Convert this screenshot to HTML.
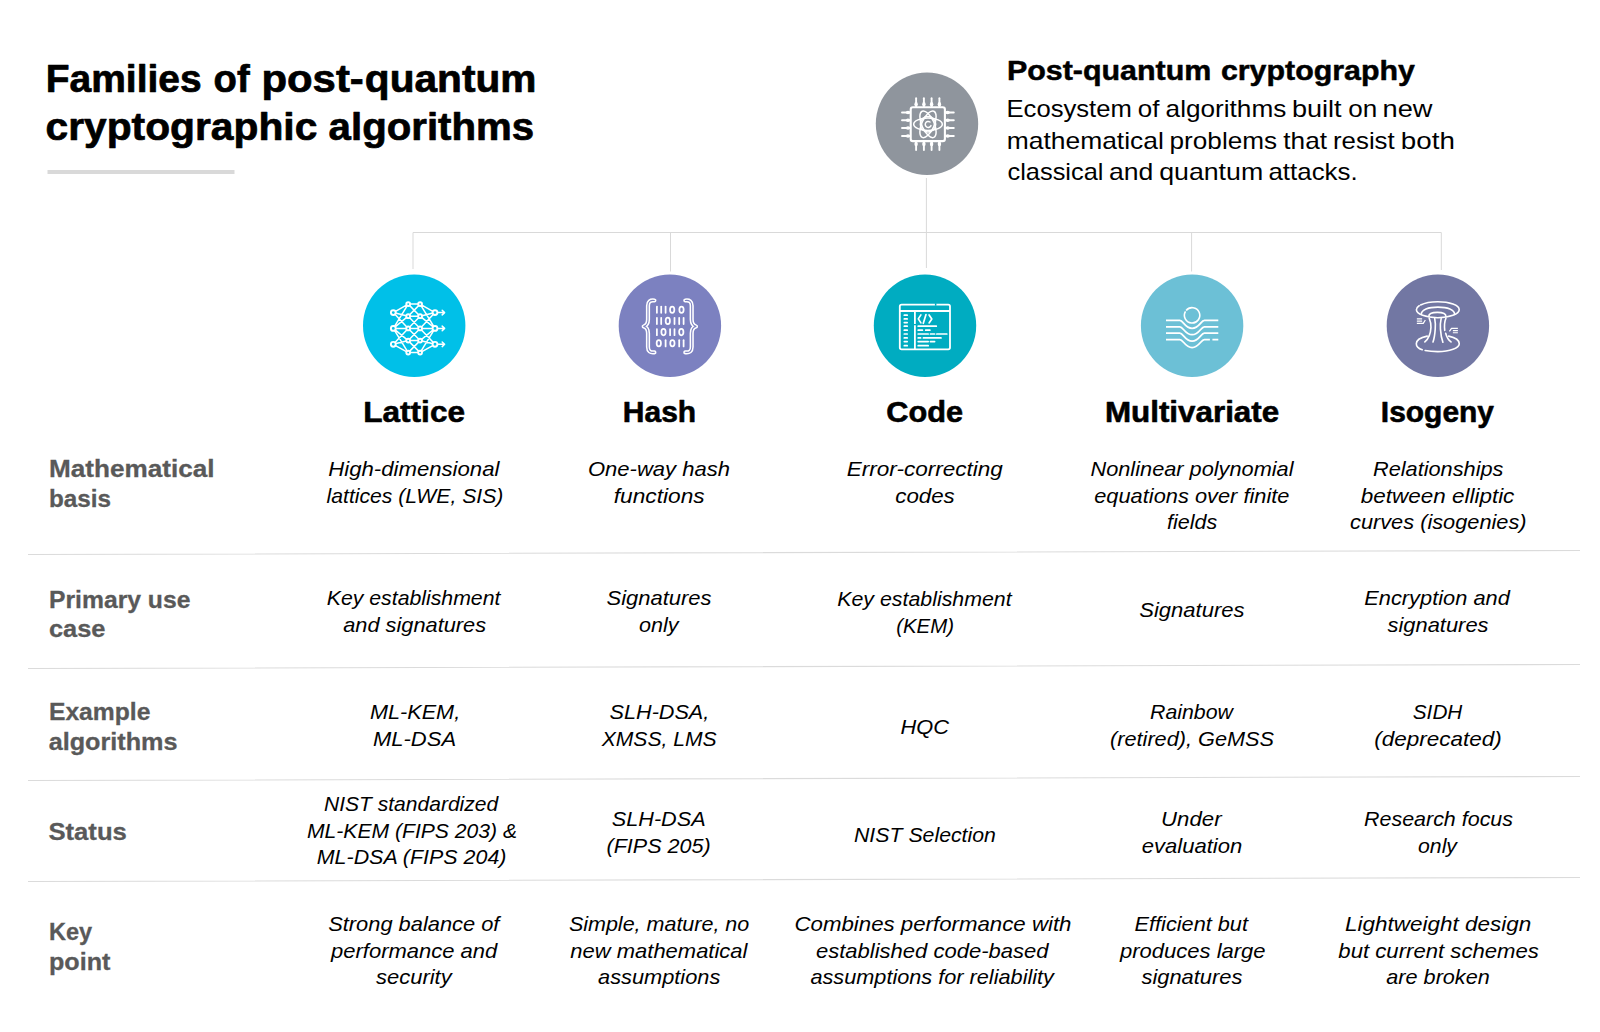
<!DOCTYPE html>
<html lang="en"><head><meta charset="utf-8"><title>Families of post-quantum cryptographic algorithms</title>
<style>
html,body{margin:0;padding:0;background:#fff;}
body{width:1600px;height:1032px;overflow:hidden;}
svg{display:block}
text{font-family:"Liberation Sans",sans-serif;fill:#000;white-space:pre}
.ttl{font-weight:700;stroke:#000;stroke-width:0.7px;stroke-linejoin:round}
.hd{font-weight:700;stroke:#000;stroke-width:0.5px;stroke-linejoin:round}
.ch{font-weight:700;stroke:#000;stroke-width:0.6px;stroke-linejoin:round}
.rl{font-weight:700;fill:#595959;stroke:#595959;stroke-width:0.3px}
.ds{font-weight:400}
.c{font-style:italic}
</style></head><body>
<svg width="1600" height="1032" viewBox="0 0 1600 1032">
<rect width="1600" height="1032" fill="#fff"/>
<g id="gfx">
<rect x="47.5" y="170" width="187" height="4" fill="#d9d9d9"/>
<g stroke="#d9d9d9" stroke-width="1" fill="none">
<path d="M413 269V232.5H1441.3V270"/>
<path d="M670.5 232.5V271.5M926.4 178V268M1191.6 232.5V271.5"/>
</g>
<g stroke="#dbdbdb" stroke-width="1.05" fill="none">
<path d="M28 554.5L1580 550.5M28 668.5L1580 664.5M28 780.5L1580 776.5M28 881.5L1580 877.5"/>
</g>
<circle cx="927" cy="123.8" r="51.2" fill="#8f959d"/>
<circle cx="414.2" cy="325.7" r="51.2" fill="#00c0e8"/>
<circle cx="669.9" cy="325.7" r="51.2" fill="#7c81c0"/>
<circle cx="925" cy="325.7" r="51.2" fill="#00acc1"/>
<circle cx="1192.1" cy="325.7" r="51.2" fill="#6cc0d6"/>
<circle cx="1437.9" cy="325.7" r="51.2" fill="#7277a3"/>
<g stroke="#fff" stroke-width="1.9" fill="none" stroke-linecap="round" stroke-linejoin="round">
<rect x="910.7" y="107.3" width="34.2" height="33.8" rx="2.2" stroke-width="2.1"/>
<path d="M916.1 98.2V106.3"/>
<path d="M916.1 150V142"/>
<ellipse cx="916.1" cy="104.3" rx="1.7" ry="2.2" fill="#fff" stroke="none"/>
<ellipse cx="916.1" cy="144" rx="1.7" ry="2.2" fill="#fff" stroke="none"/>
<path d="M923.9 98.2V106.3"/>
<path d="M923.9 150V142"/>
<ellipse cx="923.9" cy="104.3" rx="1.7" ry="2.2" fill="#fff" stroke="none"/>
<ellipse cx="923.9" cy="144" rx="1.7" ry="2.2" fill="#fff" stroke="none"/>
<path d="M931.6 98.2V106.3"/>
<path d="M931.6 150V142"/>
<ellipse cx="931.6" cy="104.3" rx="1.7" ry="2.2" fill="#fff" stroke="none"/>
<ellipse cx="931.6" cy="144" rx="1.7" ry="2.2" fill="#fff" stroke="none"/>
<path d="M939.4 98.2V106.3"/>
<path d="M939.4 150V142"/>
<ellipse cx="939.4" cy="104.3" rx="1.7" ry="2.2" fill="#fff" stroke="none"/>
<ellipse cx="939.4" cy="144" rx="1.7" ry="2.2" fill="#fff" stroke="none"/>
<path d="M902 112.5H909.8"/>
<path d="M953.8 112.5H945.8"/>
<ellipse cx="908" cy="112.5" rx="2.2" ry="1.7" fill="#fff" stroke="none"/>
<ellipse cx="947.7" cy="112.5" rx="2.2" ry="1.7" fill="#fff" stroke="none"/>
<path d="M902 120.2H909.8"/>
<path d="M953.8 120.2H945.8"/>
<ellipse cx="908" cy="120.2" rx="2.2" ry="1.7" fill="#fff" stroke="none"/>
<ellipse cx="947.7" cy="120.2" rx="2.2" ry="1.7" fill="#fff" stroke="none"/>
<path d="M902 128.0H909.8"/>
<path d="M953.8 128.0H945.8"/>
<ellipse cx="908" cy="128.0" rx="2.2" ry="1.7" fill="#fff" stroke="none"/>
<ellipse cx="947.7" cy="128.0" rx="2.2" ry="1.7" fill="#fff" stroke="none"/>
<path d="M902 136.0H909.8"/>
<path d="M953.8 136.0H945.8"/>
<ellipse cx="908" cy="136.0" rx="2.2" ry="1.7" fill="#fff" stroke="none"/>
<ellipse cx="947.7" cy="136.0" rx="2.2" ry="1.7" fill="#fff" stroke="none"/>
</g>
<g stroke="#fff" stroke-width="1.5" fill="none" stroke-linecap="round">
<ellipse cx="928" cy="124.3" rx="14.3" ry="6.2"/>
<ellipse cx="928" cy="124.3" rx="14.3" ry="6.2" transform="rotate(66 928 124.3)"/>
<ellipse cx="928" cy="124.3" rx="14.3" ry="6.2" transform="rotate(-66 928 124.3)"/>
<circle cx="928" cy="124.3" r="7.7"/>
<path d="M930 122A3 3 0 1 0 931 125.6"/>
</g>
<g stroke="#fff" stroke-width="1.5" fill="none" stroke-linecap="round" stroke-linejoin="round">
<path d="M393.3 312.6L408.2 304.1M435.0 312.6L420.1 304.1M393.3 312.6L408.2 316.2M435.0 312.6L420.1 316.2M393.3 312.6L408.2 328.4M435.0 312.6L420.1 328.4M393.3 328.4L408.2 304.1M435.0 328.4L420.1 304.1M393.3 328.4L408.2 316.2M435.0 328.4L420.1 316.2M393.3 328.4L408.2 328.4M435.0 328.4L420.1 328.4M393.3 328.4L408.2 340.6M435.0 328.4L420.1 340.6M393.3 328.4L408.2 352.6M435.0 328.4L420.1 352.6M393.3 344.3L408.2 328.4M435.0 344.3L420.1 328.4M393.3 344.3L408.2 340.6M435.0 344.3L420.1 340.6M393.3 344.3L408.2 352.6M435.0 344.3L420.1 352.6M408.2 304.1L420.1 304.1M408.2 304.1L420.1 316.2M408.2 316.2L420.1 304.1M408.2 316.2L420.1 316.2M408.2 316.2L420.1 328.4M408.2 328.4L420.1 316.2M408.2 328.4L420.1 328.4M408.2 328.4L420.1 340.6M408.2 340.6L420.1 328.4M408.2 340.6L420.1 340.6M408.2 340.6L420.1 352.6M408.2 352.6L420.1 340.6M408.2 352.6L420.1 352.6M435.0 312.6H444.3M442.2 310.3L444.6 312.6L442.2 314.9M435.0 328.4H444.3M442.2 326.1L444.6 328.4L442.2 330.7M435.0 344.3H444.3M442.2 342.0L444.6 344.3L442.2 346.6"/>
</g>
<g stroke="#fff" stroke-width="1.9" fill="#00c0e8">
<circle cx="393.3" cy="312.6" r="2.4"/>
<circle cx="393.3" cy="328.4" r="2.4"/>
<circle cx="393.3" cy="344.3" r="2.4"/>
<circle cx="435.0" cy="312.6" r="2.4"/>
<circle cx="435.0" cy="328.4" r="2.4"/>
<circle cx="435.0" cy="344.3" r="2.4"/>
<circle cx="408.2" cy="304.1" r="1.9"/>
<circle cx="408.2" cy="316.2" r="1.9"/>
<circle cx="408.2" cy="328.4" r="1.9"/>
<circle cx="408.2" cy="340.6" r="1.9"/>
<circle cx="408.2" cy="352.6" r="1.9"/>
<circle cx="420.1" cy="304.1" r="1.9"/>
<circle cx="420.1" cy="316.2" r="1.9"/>
<circle cx="420.1" cy="328.4" r="1.9"/>
<circle cx="420.1" cy="340.6" r="1.9"/>
<circle cx="420.1" cy="352.6" r="1.9"/>
</g>
<g fill="none" stroke-linecap="round" stroke-linejoin="round">
<path d="M654.4 300.5C650.2 299.9 648 301.6 648 305.8V319.6C648 323.5 646.6 325.6 643.7 326.4C646.6 327.2 648 329.3 648 333.2V347C648 351.2 650.2 352.9 654.4 352.3" stroke="#fff" stroke-width="4.2"/>
<path d="M654.4 300.5C650.2 299.9 648 301.6 648 305.8V319.6C648 323.5 646.6 325.6 643.7 326.4C646.6 327.2 648 329.3 648 333.2V347C648 351.2 650.2 352.9 654.4 352.3" stroke="#7c81c0" stroke-width="1.1"/>
<g transform="translate(1339.7 0) scale(-1 1)"><path d="M654.4 300.5C650.2 299.9 648 301.6 648 305.8V319.6C648 323.5 646.6 325.6 643.7 326.4C646.6 327.2 648 329.3 648 333.2V347C648 351.2 650.2 352.9 654.4 352.3" stroke="#fff" stroke-width="4.2"/><path d="M654.4 300.5C650.2 299.9 648 301.6 648 305.8V319.6C648 323.5 646.6 325.6 643.7 326.4C646.6 327.2 648 329.3 648 333.2V347C648 351.2 650.2 352.9 654.4 352.3" stroke="#7c81c0" stroke-width="1.1"/></g>
</g>
<g stroke="#fff" stroke-width="1.75" fill="none" stroke-linecap="round">
<path d="M656.9 306.6V312.8"/>
<path d="M661.2 306.6V312.8"/>
<path d="M665.6 306.6V312.8"/>
<ellipse cx="672.2" cy="309.7" rx="2.15" ry="3.2"/>
<ellipse cx="681.5" cy="309.7" rx="2.15" ry="3.2"/>
<path d="M656.9 317.8V324.0"/>
<path d="M661.2 317.8V324.0"/>
<ellipse cx="667.8" cy="320.9" rx="2.15" ry="3.2"/>
<path d="M674.5 317.8V324.0"/>
<path d="M679.2 317.8V324.0"/>
<path d="M683.6 317.8V324.0"/>
<path d="M656.9 329.0V335.2"/>
<ellipse cx="663.5" cy="332.1" rx="2.15" ry="3.2"/>
<path d="M670.1 329.0V335.2"/>
<path d="M674.5 329.0V335.2"/>
<ellipse cx="681.3" cy="332.1" rx="2.15" ry="3.2"/>
<ellipse cx="658.8" cy="343.3" rx="2.15" ry="3.2"/>
<path d="M665.6 340.2V346.4"/>
<ellipse cx="672.4" cy="343.3" rx="2.15" ry="3.2"/>
<path d="M679.2 340.2V346.4"/>
<path d="M683.6 340.2V346.4"/>
</g>
<g stroke="#fff" stroke-width="1.8" fill="none" stroke-linejoin="round">
<rect x="899.8" y="304.6" width="50.2" height="44.8" rx="1.8"/>
<path d="M899.8 311H950M914.9 311V349.4"/>
<path d="M934.9 304.5H936.4M914.9 323.9V325.2" stroke="#00acc1" stroke-width="2.4"/>
</g>
<g stroke="#fff" stroke-width="1.7" fill="none" stroke-linecap="round" stroke-linejoin="round">
<path d="M904.3 315.2H907.2"/>
<path d="M904.3 318.9H907.2"/>
<path d="M904.3 322.6H907.2"/>
<path d="M904.3 326.2H907.2"/>
<path d="M904.3 330.2H907.2"/>
<path d="M904.3 334.0H907.2"/>
<path d="M904.3 337.9H907.2"/>
<path d="M904.3 341.6H907.2"/>
<path d="M904.3 345.7H907.2"/>
<path d="M920.9 314.9L918.3 318.9L920.9 322.9M926 314.5L923.3 323.3M929.1 314.9L931.8 318.9L929.1 322.9"/>
<path d="M918.2 326.2H936.3"/>
<path d="M918.2 330.2H922.4"/>
<path d="M925.7 330.2H929.9"/>
<path d="M918.2 334.0H928.2"/>
<path d="M930.4 334.0H934.6"/>
<path d="M936.8 334.0H946.8"/>
<path d="M918.2 337.9H920.6"/>
<path d="M923.4 337.9H941.0"/>
<path d="M918.2 341.6H928.2"/>
<path d="M930.4 341.6H934.6"/>
<path d="M918.2 345.7H928.2"/>
</g>
<g stroke="#fff" stroke-width="1.75" fill="none" stroke-linecap="butt">
<path d="M1186.12 310.45A7.7 7.7 0 1 1 1185.5 311.33" stroke-width="1.6"/>
<path d="M1166.0 320.4H1179.8C1183.3 320.4 1185 328.3 1192.1 328.3C1199.2 328.3 1200.9 320.4 1204.4 320.4H1218.3"/>
<path d="M1166.0 326.8H1179.8C1183.3 326.8 1185 334.7 1192.1 334.7C1199.2 334.7 1200.9 326.8 1204.4 326.8H1218.3"/>
<path d="M1166.0 333.2H1179.8C1183.3 333.2 1185 341.1 1192.1 341.1C1199.2 341.1 1200.9 333.2 1204.4 333.2H1218.3"/>
<path d="M1166.0 339.6H1179.8C1183.3 339.6 1185 347.5 1192.1 347.5C1199.2 347.5 1200.9 339.6 1204.4 339.6H1209.9M1212.4 339.6H1218.3"/>
</g>
<g stroke="#fff" stroke-width="1.6" fill="none" stroke-linecap="round" stroke-linejoin="round">
<ellipse cx="1437.8" cy="309.7" rx="21.4" ry="8.0" stroke-dasharray="95.5 1.6" stroke-dashoffset="-55.1"/>
<path d="M1421.26 314.49 C1421.26 309.66 1428.35 307.16 1437.94 307.16 C1447.53 307.16 1454.63 309.66 1454.63 314.49"/>
<path d="M1428.76 316.47 C1428.76 313.73 1432.42 312.40 1437.36 312.40 C1442.30 312.40 1445.97 313.73 1445.97 316.47"/>
<path d="M1427.19 336.12 C1420.50 337.57 1416.31 340.48 1416.31 343.67 C1416.31 346.58 1418.76 348.62 1422.24 349.78"/>
<path d="M1425.15 350.53 C1428.64 351.23 1433.00 351.64 1437.77 351.64 C1449.86 351.64 1459.28 348.03 1459.28 343.67 C1459.28 340.48 1455.09 337.57 1448.70 336.12"/>
<path d="M1429.22 318.21 C1430.38 321.00 1431.14 323.91 1430.97 327.40 C1430.67 333.21 1428.35 339.02 1424.86 341.93"/>
<path d="M1445.91 318.21 C1444.74 321.00 1444.16 325.07 1444.74 330.42"/>
<path d="M1445.67 333.21 C1446.66 336.99 1448.70 340.19 1451.02 341.93"/>
<path d="M1434.74 318.56 C1435.33 321.58 1435.50 325.07 1435.21 329.14 C1434.86 334.37 1434.05 339.02 1433.00 342.05"/>
<path d="M1441.14 318.56 C1440.44 321.58 1440.21 325.07 1440.44 329.14 C1440.79 334.37 1441.72 339.02 1442.88 342.22"/>
<path d="M1416.84 318.97 H1422.13 M1416.84 321.12 H1422.13 M1416.84 323.33 H1423.23 L1425.33 319.95" stroke-width="1.2" stroke-linecap="butt"/>
<path d="M1449.40 331.35 L1451.49 328.33 H1457.88 M1452.88 330.59 H1457.88 M1452.88 332.74 H1457.88" stroke-width="1.2" stroke-linecap="butt"/>
</g>
</g>
<text class="ttl" font-size="38.7"><tspan id="t0" x="45.74" y="91.70" textLength="155.86" lengthAdjust="spacingAndGlyphs">Families</tspan> <tspan id="t1" x="213.59" y="91.70" textLength="36.08" lengthAdjust="spacingAndGlyphs">of</tspan> <tspan id="t2" x="261.42" y="91.70" textLength="102.42" lengthAdjust="spacingAndGlyphs">post-</tspan><tspan id="t3" x="364.85" y="91.70" textLength="171.51" lengthAdjust="spacingAndGlyphs">quantum</tspan></text>
<text class="ttl" font-size="38.7"><tspan id="t4" x="45.50" y="139.60" textLength="271.83" lengthAdjust="spacingAndGlyphs">cryptographic</tspan> <tspan id="t5" x="328.64" y="139.60" textLength="205.57" lengthAdjust="spacingAndGlyphs">algorithms</tspan></text>
<text class="hd" font-size="28.4"><tspan id="t6" x="1006.96" y="80.20" textLength="204.37" lengthAdjust="spacingAndGlyphs">Post-quantum</tspan> <tspan id="t7" x="1220.90" y="80.20" textLength="194.07" lengthAdjust="spacingAndGlyphs">cryptography</tspan></text>
<text class="ds" font-size="23.8"><tspan id="t8" x="1006.46" y="117.20" textLength="125.40" lengthAdjust="spacingAndGlyphs">Ecosystem</tspan> <tspan id="t9" x="1137.74" y="117.20" textLength="21.65" lengthAdjust="spacingAndGlyphs">of</tspan> <tspan id="t10" x="1165.58" y="117.20" textLength="120.71" lengthAdjust="spacingAndGlyphs">algorithms</tspan> <tspan id="t11" x="1291.92" y="117.20" textLength="49.67" lengthAdjust="spacingAndGlyphs">built</tspan> <tspan id="t12" x="1348.22" y="117.20" textLength="28.96" lengthAdjust="spacingAndGlyphs">on</tspan> <tspan id="t13" x="1382.52" y="117.20" textLength="49.91" lengthAdjust="spacingAndGlyphs">new</tspan></text>
<text class="ds" font-size="23.8"><tspan id="t14" x="1006.72" y="148.60" textLength="157.11" lengthAdjust="spacingAndGlyphs">mathematical</tspan> <tspan id="t15" x="1169.58" y="148.60" textLength="107.50" lengthAdjust="spacingAndGlyphs">problems</tspan> <tspan id="t16" x="1283.31" y="148.60" textLength="43.69" lengthAdjust="spacingAndGlyphs">that</tspan> <tspan id="t17" x="1333.00" y="148.60" textLength="61.71" lengthAdjust="spacingAndGlyphs">resist</tspan> <tspan id="t18" x="1400.80" y="148.60" textLength="54.08" lengthAdjust="spacingAndGlyphs">both</tspan></text>
<text class="ds" font-size="23.8"><tspan id="t19" x="1007.47" y="179.80" textLength="95.97" lengthAdjust="spacingAndGlyphs">classical</tspan> <tspan id="t20" x="1109.02" y="179.80" textLength="44.38" lengthAdjust="spacingAndGlyphs">and</tspan> <tspan id="t21" x="1159.19" y="179.80" textLength="103.96" lengthAdjust="spacingAndGlyphs">quantum</tspan> <tspan id="t22" x="1268.47" y="179.80" textLength="89.16" lengthAdjust="spacingAndGlyphs">attacks.</tspan></text>
<text class="ch" font-size="30.2"><tspan id="t23" x="363.22" y="421.80" textLength="101.82" lengthAdjust="spacingAndGlyphs">Lattice</tspan></text>
<text class="ch" font-size="30.2"><tspan id="t24" x="622.80" y="421.80" textLength="73.34" lengthAdjust="spacingAndGlyphs">Hash</tspan></text>
<text class="ch" font-size="30.2"><tspan id="t25" x="886.28" y="421.80" textLength="76.77" lengthAdjust="spacingAndGlyphs">Code</tspan></text>
<text class="ch" font-size="30.2"><tspan id="t26" x="1104.92" y="421.80" textLength="174.31" lengthAdjust="spacingAndGlyphs">Multivariate</tspan></text>
<text class="ch" font-size="30.2"><tspan id="t27" x="1380.84" y="421.80" textLength="113.16" lengthAdjust="spacingAndGlyphs">Isogeny</tspan></text>
<text class="rl" font-size="24"><tspan id="t28" x="48.99" y="476.90" textLength="165.52" lengthAdjust="spacingAndGlyphs">Mathematical</tspan></text>
<text class="rl" font-size="24"><tspan id="t29" x="48.97" y="506.90" textLength="62.04" lengthAdjust="spacingAndGlyphs">basis</tspan></text>
<text class="rl" font-size="24"><tspan id="t30" x="48.99" y="607.75" textLength="141.42" lengthAdjust="spacingAndGlyphs">Primary use</tspan></text>
<text class="rl" font-size="24"><tspan id="t31" x="48.99" y="637.40" textLength="56.51" lengthAdjust="spacingAndGlyphs">case</tspan></text>
<text class="rl" font-size="24"><tspan id="t32" x="48.97" y="720.00" textLength="101.39" lengthAdjust="spacingAndGlyphs">Example</tspan></text>
<text class="rl" font-size="24"><tspan id="t33" x="48.68" y="750.00" textLength="128.84" lengthAdjust="spacingAndGlyphs">algorithms</tspan></text>
<text class="rl" font-size="24"><tspan id="t34" x="48.41" y="840.00" textLength="78.47" lengthAdjust="spacingAndGlyphs">Status</tspan></text>
<text class="rl" font-size="24"><tspan id="t35" x="48.98" y="940.00" textLength="43.21" lengthAdjust="spacingAndGlyphs">Key</tspan></text>
<text class="rl" font-size="24"><tspan id="t36" x="48.97" y="969.80" textLength="61.45" lengthAdjust="spacingAndGlyphs">point</tspan></text>
<text class="c" font-size="20.9"><tspan id="t37" x="328.25" y="476.00" textLength="171.18" lengthAdjust="spacingAndGlyphs">High-dimensional</tspan></text>
<text class="c" font-size="20.9"><tspan id="t38" x="326.59" y="502.50" textLength="176.72" lengthAdjust="spacingAndGlyphs">lattices (LWE, SIS)</tspan></text>
<text class="c" font-size="20.9"><tspan id="t39" x="587.99" y="476.00" textLength="142.01" lengthAdjust="spacingAndGlyphs">One-way hash</tspan></text>
<text class="c" font-size="20.9"><tspan id="t40" x="613.78" y="502.50" textLength="90.90" lengthAdjust="spacingAndGlyphs">functions</tspan></text>
<text class="c" font-size="20.9"><tspan id="t41" x="846.71" y="476.00" textLength="156.16" lengthAdjust="spacingAndGlyphs">Error-correcting</tspan></text>
<text class="c" font-size="20.9"><tspan id="t42" x="895.24" y="502.50" textLength="59.55" lengthAdjust="spacingAndGlyphs">codes</tspan></text>
<text class="c" font-size="20.9"><tspan id="t43" x="1090.49" y="476.00" textLength="203.07" lengthAdjust="spacingAndGlyphs">Nonlinear polynomial</tspan></text>
<text class="c" font-size="20.9"><tspan id="t44" x="1094.23" y="502.50" textLength="195.27" lengthAdjust="spacingAndGlyphs">equations over finite</tspan></text>
<text class="c" font-size="20.9"><tspan id="t45" x="1167.09" y="528.80" textLength="50.23" lengthAdjust="spacingAndGlyphs">fields</tspan></text>
<text class="c" font-size="20.9"><tspan id="t46" x="1373.01" y="476.00" textLength="130.43" lengthAdjust="spacingAndGlyphs">Relationships</tspan></text>
<text class="c" font-size="20.9"><tspan id="t47" x="1360.83" y="502.50" textLength="153.52" lengthAdjust="spacingAndGlyphs">between elliptic</tspan></text>
<text class="c" font-size="20.9"><tspan id="t48" x="1350.00" y="528.80" textLength="176.59" lengthAdjust="spacingAndGlyphs">curves (isogenies)</tspan></text>
<text class="c" font-size="20.9"><tspan id="t49" x="326.75" y="605.30" textLength="173.67" lengthAdjust="spacingAndGlyphs">Key establishment</tspan></text>
<text class="c" font-size="20.9"><tspan id="t50" x="343.17" y="631.70" textLength="142.97" lengthAdjust="spacingAndGlyphs">and signatures</tspan></text>
<text class="c" font-size="20.9"><tspan id="t51" x="606.51" y="605.30" textLength="105.08" lengthAdjust="spacingAndGlyphs">Signatures</tspan></text>
<text class="c" font-size="20.9"><tspan id="t52" x="639.01" y="631.70" textLength="39.59" lengthAdjust="spacingAndGlyphs">only</tspan></text>
<text class="c" font-size="20.9"><tspan id="t53" x="837.28" y="606.20" textLength="174.35" lengthAdjust="spacingAndGlyphs">Key establishment</tspan></text>
<text class="c" font-size="20.9"><tspan id="t54" x="896.20" y="632.60" textLength="57.82" lengthAdjust="spacingAndGlyphs">(KEM)</tspan></text>
<text class="c" font-size="20.9"><tspan id="t55" x="1139.26" y="616.90" textLength="105.30" lengthAdjust="spacingAndGlyphs">Signatures</tspan></text>
<text class="c" font-size="20.9"><tspan id="t56" x="1364.26" y="605.30" textLength="145.55" lengthAdjust="spacingAndGlyphs">Encryption and</tspan></text>
<text class="c" font-size="20.9"><tspan id="t57" x="1387.57" y="631.70" textLength="100.96" lengthAdjust="spacingAndGlyphs">signatures</tspan></text>
<text class="c" font-size="20.9"><tspan id="t58" x="369.99" y="718.75" textLength="90.18" lengthAdjust="spacingAndGlyphs">ML-KEM,</tspan></text>
<text class="c" font-size="20.9"><tspan id="t59" x="373.00" y="746.00" textLength="83.04" lengthAdjust="spacingAndGlyphs">ML-DSA</tspan></text>
<text class="c" font-size="20.9"><tspan id="t60" x="609.58" y="718.75" textLength="99.72" lengthAdjust="spacingAndGlyphs">SLH-DSA,</tspan></text>
<text class="c" font-size="20.9"><tspan id="t61" x="601.67" y="746.00" textLength="115.04" lengthAdjust="spacingAndGlyphs">XMSS, LMS</tspan></text>
<text class="c" font-size="20.9"><tspan id="t62" x="900.48" y="734.40" textLength="48.48" lengthAdjust="spacingAndGlyphs">HQC</tspan></text>
<text class="c" font-size="20.9"><tspan id="t63" x="1150.02" y="718.75" textLength="82.94" lengthAdjust="spacingAndGlyphs">Rainbow</tspan></text>
<text class="c" font-size="20.9"><tspan id="t64" x="1110.06" y="746.00" textLength="163.90" lengthAdjust="spacingAndGlyphs">(retired), GeMSS</tspan></text>
<text class="c" font-size="20.9"><tspan id="t65" x="1412.81" y="718.75" textLength="49.54" lengthAdjust="spacingAndGlyphs">SIDH</tspan></text>
<text class="c" font-size="20.9"><tspan id="t66" x="1374.23" y="746.00" textLength="127.48" lengthAdjust="spacingAndGlyphs">(deprecated)</tspan></text>
<text class="c" font-size="20.9"><tspan id="t67" x="324.02" y="811.00" textLength="174.17" lengthAdjust="spacingAndGlyphs">NIST standardized</tspan></text>
<text class="c" font-size="20.9"><tspan id="t68" x="307.01" y="837.90" textLength="210.00" lengthAdjust="spacingAndGlyphs">ML-KEM (FIPS 203) &amp;</tspan></text>
<text class="c" font-size="20.9"><tspan id="t69" x="316.76" y="864.10" textLength="189.69" lengthAdjust="spacingAndGlyphs">ML-DSA (FIPS 204)</tspan></text>
<text class="c" font-size="20.9"><tspan id="t70" x="611.79" y="826.10" textLength="93.87" lengthAdjust="spacingAndGlyphs">SLH-DSA</tspan></text>
<text class="c" font-size="20.9"><tspan id="t71" x="606.52" y="852.90" textLength="104.16" lengthAdjust="spacingAndGlyphs">(FIPS 205)</tspan></text>
<text class="c" font-size="20.9"><tspan id="t72" x="854.01" y="842.10" textLength="141.93" lengthAdjust="spacingAndGlyphs">NIST Selection</tspan></text>
<text class="c" font-size="20.9"><tspan id="t73" x="1161.10" y="826.10" textLength="60.43" lengthAdjust="spacingAndGlyphs">Under</tspan></text>
<text class="c" font-size="20.9"><tspan id="t74" x="1141.71" y="852.90" textLength="100.53" lengthAdjust="spacingAndGlyphs">evaluation</tspan></text>
<text class="c" font-size="20.9"><tspan id="t75" x="1364.01" y="826.10" textLength="149.03" lengthAdjust="spacingAndGlyphs">Research focus</tspan></text>
<text class="c" font-size="20.9"><tspan id="t76" x="1418.02" y="852.90" textLength="38.97" lengthAdjust="spacingAndGlyphs">only</tspan></text>
<text class="c" font-size="20.9"><tspan id="t77" x="328.20" y="930.70" textLength="171.26" lengthAdjust="spacingAndGlyphs">Strong balance of</tspan></text>
<text class="c" font-size="20.9"><tspan id="t78" x="331.08" y="957.90" textLength="166.22" lengthAdjust="spacingAndGlyphs">performance and</tspan></text>
<text class="c" font-size="20.9"><tspan id="t79" x="375.97" y="983.50" textLength="75.73" lengthAdjust="spacingAndGlyphs">security</tspan></text>
<text class="c" font-size="20.9"><tspan id="t80" x="568.90" y="931.00" textLength="180.39" lengthAdjust="spacingAndGlyphs">Simple, mature, no</tspan></text>
<text class="c" font-size="20.9"><tspan id="t81" x="570.33" y="957.90" textLength="177.12" lengthAdjust="spacingAndGlyphs">new mathematical</tspan></text>
<text class="c" font-size="20.9"><tspan id="t82" x="598.08" y="983.90" textLength="122.23" lengthAdjust="spacingAndGlyphs">assumptions</tspan></text>
<text class="c" font-size="20.9"><tspan id="t83" x="794.46" y="931.00" textLength="277.05" lengthAdjust="spacingAndGlyphs">Combines performance with</tspan></text>
<text class="c" font-size="20.9"><tspan id="t84" x="815.96" y="957.90" textLength="232.53" lengthAdjust="spacingAndGlyphs">established code-based</tspan></text>
<text class="c" font-size="20.9"><tspan id="t85" x="810.43" y="983.90" textLength="243.54" lengthAdjust="spacingAndGlyphs">assumptions for reliability</tspan></text>
<text class="c" font-size="20.9"><tspan id="t86" x="1134.51" y="931.00" textLength="113.48" lengthAdjust="spacingAndGlyphs">Efficient but</tspan></text>
<text class="c" font-size="20.9"><tspan id="t87" x="1120.06" y="957.90" textLength="145.53" lengthAdjust="spacingAndGlyphs">produces large</tspan></text>
<text class="c" font-size="20.9"><tspan id="t88" x="1141.47" y="983.90" textLength="100.99" lengthAdjust="spacingAndGlyphs">signatures</tspan></text>
<text class="c" font-size="20.9"><tspan id="t89" x="1345.01" y="931.00" textLength="186.21" lengthAdjust="spacingAndGlyphs">Lightweight design</tspan></text>
<text class="c" font-size="20.9"><tspan id="t90" x="1338.36" y="957.90" textLength="200.59" lengthAdjust="spacingAndGlyphs">but current schemes</tspan></text>
<text class="c" font-size="20.9"><tspan id="t91" x="1386.32" y="983.90" textLength="103.45" lengthAdjust="spacingAndGlyphs">are broken</tspan></text>
</svg>
</body></html>
